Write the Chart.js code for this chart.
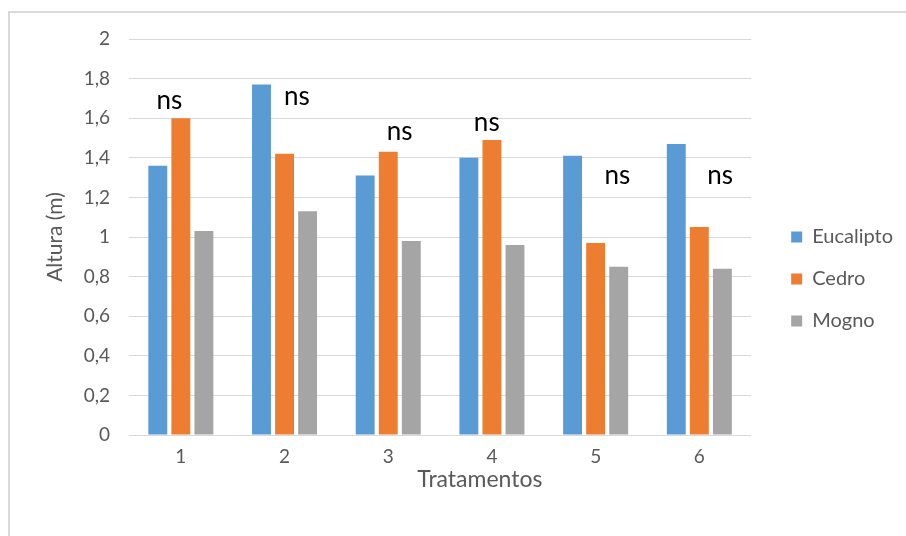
<!DOCTYPE html>
<html>
<head>
<meta charset="utf-8">
<script src="https://cdn.jsdelivr.net/npm/chart.js@4"></script>
<style>
  html, body { margin: 0; padding: 0; background: #ffffff; overflow: hidden; }
  #wrap { position: absolute; left: 0; top: 0; width: 906px; height: 536px; }
  #frame { position: absolute; left: 8px; top: 11px; width: 1000px; height: 600px; border: 2px solid #d9d9d9; box-sizing: border-box; }
  canvas { position: absolute; left: 0; top: 0; }
</style>
</head>
<body>
<div id="wrap">
  <div id="frame"></div>
  <canvas id="c" width="906" height="536"></canvas>
</div>
<script>
const categories = ['1', '2', '3', '4', '5', '6'];
const eucalipto = [1.36, 1.77, 1.31, 1.40, 1.41, 1.47];
const cedro = [1.60, 1.42, 1.43, 1.49, 0.97, 1.05];
const mogno = [1.03, 1.13, 0.98, 0.96, 0.85, 0.84];
const nsLabels = ['ns', 'ns', 'ns', 'ns', 'ns', 'ns'];
const nsX = [-0.11, 1.12, 2.11, 2.95, 4.21, 5.2];
const nsY = [1.69, 1.71, 1.53, 1.58, 1.31, 1.31];
const yTitle = 'Altura (m)';
const xTitle = 'Tratamentos';

const FONT = 'Lato, "Liberation Sans", sans-serif';

const annotPlugin = {
  id: 'annot',
  afterLayout(chart) {
    const lg = chart.legend;
    if (lg) { lg.left += 18; lg.right += 18; }
  },
  afterDatasetsDraw(chart) {
    const ctx = chart.ctx;
    const xs = chart.scales.x, ys = chart.scales.y;
    ctx.save();
    ctx.fillStyle = '#000000';
    ctx.font = '26px ' + FONT;
    ctx.textAlign = 'center';
    ctx.textBaseline = 'middle';
    nsLabels.forEach((t, i) => {
      ctx.fillText(t, xs.getPixelForValue(nsX[i]), ys.getPixelForValue(nsY[i]));
    });
    const ca = chart.chartArea;
    ctx.fillStyle = '#595959';
    ctx.font = '23px ' + FONT;
    ctx.fillText(xTitle, ca.left + (ca.right - ca.left) * 0.564, 480);
    ctx.restore();
  }
};

new Chart(document.getElementById('c'), {
  type: 'bar',
  data: {
    labels: categories,
    datasets: [
      { label: 'Eucalipto', data: eucalipto, backgroundColor: '#5b9bd5' },
      { label: 'Cedro', data: cedro, backgroundColor: '#ed7d31' },
      { label: 'Mogno', data: mogno, backgroundColor: '#a5a5a5' }
    ]
  },
  options: {
    responsive: false,
    animation: false,
    devicePixelRatio: 1,
    categoryPercentage: 0.667,
    barPercentage: 0.82,
    layout: { padding: { left: 43, top: 39, right: 21, bottom: 17 } },
    plugins: {
      legend: {
        position: 'right',
        labels: {
          boxWidth: 11, boxHeight: 11, padding: 22,
          color: '#595959',
          font: { family: FONT, size: 20 }
        }
      },
      tooltip: { enabled: false }
    },
    scales: {
      x: {
        grid: { display: false },
        border: { display: false },
        ticks: { color: '#595959', font: { family: FONT, size: 19 }, padding: 2 },
        afterFit(s) { s.height = 84; }
      },
      y: {
        min: 0, max: 2,
        ticks: {
          stepSize: 0.2, color: '#595959', font: { family: FONT, size: 19 }, padding: 19,
          callback: (v) => (Math.round(v * 10) / 10).toString().replace('.', ',')
        },
        grid: { color: '#d9d9d9', drawTicks: false, lineWidth: 1 },
        border: { display: false },
        title: { display: true, text: yTitle, color: '#595959', font: { family: FONT, size: 21 }, padding: 0 },
        afterFit(s) { s.width = 86; }
      }
    }
  },
  plugins: [annotPlugin]
});
</script>
</body>
</html>
